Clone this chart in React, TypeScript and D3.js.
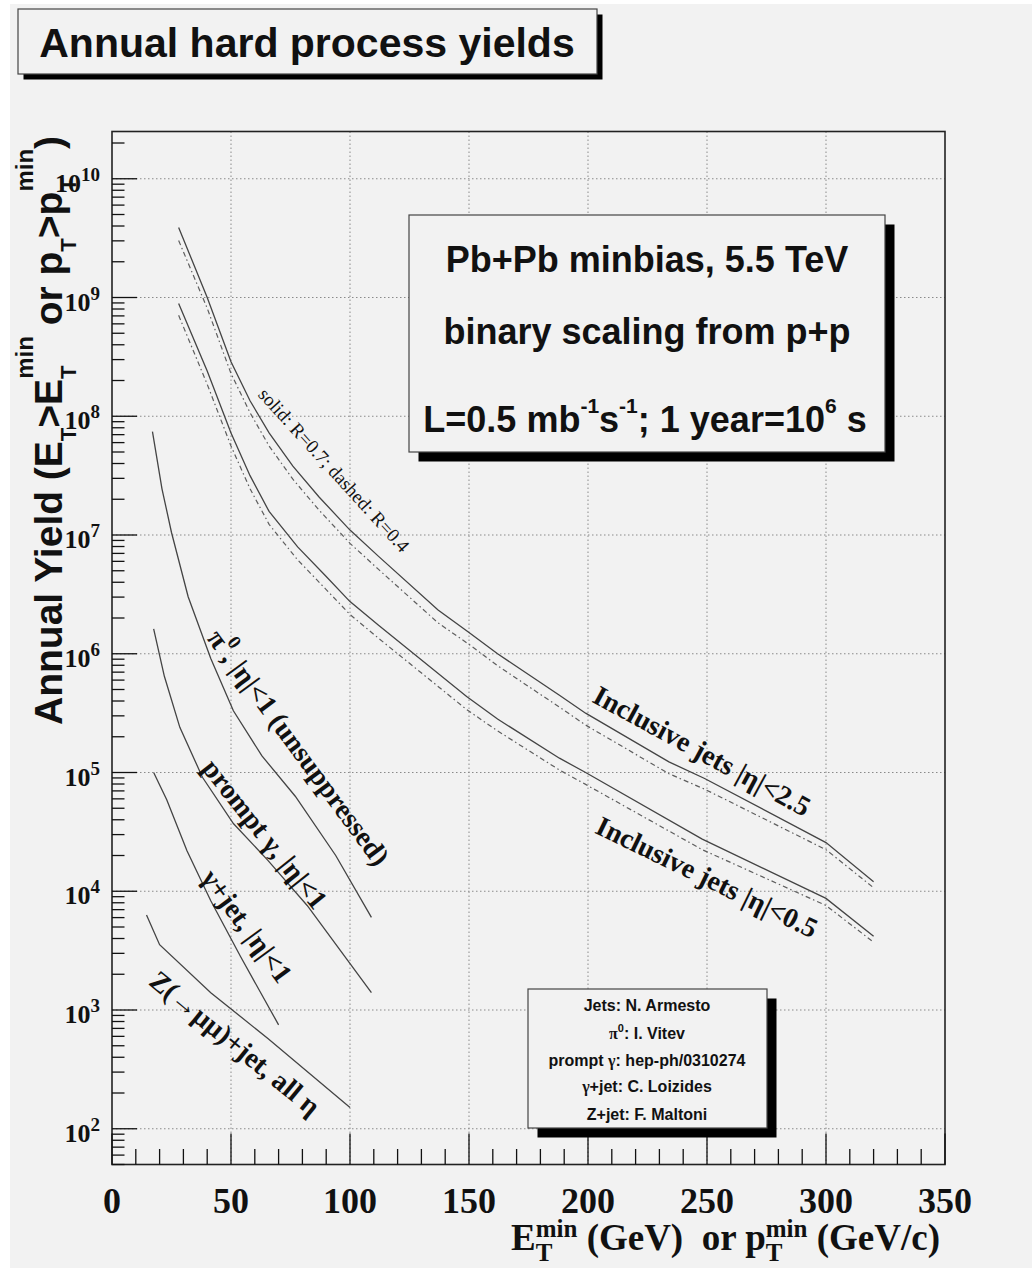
import React from "react";
import * as d3 from "d3";

// ---- data: annual yields above threshold (x = E_T^min or p_T^min in GeV) ----
const jets25X = [28, 40, 50, 58, 66, 76, 87, 100, 112, 137, 150, 162, 188, 199, 234, 249, 300, 320];
const jets25R07 = [3.89e9, 1.0e9, 2.88e8, 1.35e8, 7.24e7, 3.8e7, 2.09e7, 1.1e7, 6.61e6, 2.34e6, 1.51e6, 1.0e6, 4.47e5, 3.16e5, 1.23e5, 8.9e4, 2.57e4, 1.2e4];
const jets25R04 = [3.02e9, 8.13e8, 2.29e8, 1.07e8, 5.62e7, 2.95e7, 1.62e7, 8.51e6, 5.13e6, 1.82e6, 1.2e6, 7.94e5, 3.55e5, 2.51e5, 9.77e4, 7.24e4, 2.24e4, 1.07e4];

const jets05X = [28, 40, 50, 58, 66, 78, 90, 100, 112, 149, 162, 188, 199, 248, 300, 320];
const jets05R07 = [8.91e8, 2.4e8, 7.24e7, 3.16e7, 1.58e7, 7.94e6, 4.47e6, 2.75e6, 1.74e6, 4.37e5, 2.82e5, 1.32e5, 1.0e5, 2.75e4, 8.71e3, 4.17e3];
const jets05R04 = [7.08e8, 1.86e8, 5.62e7, 2.45e7, 1.23e7, 6.17e6, 3.47e6, 2.14e6, 1.35e6, 3.39e5, 2.24e5, 1.05e5, 7.94e4, 2.24e4, 7.59e3, 3.72e3];

const pi0X = [17, 21, 25, 32, 41.5, 51, 63, 77, 94, 109];
const pi0Y = [7.41e7, 2.45e7, 1.05e7, 3.02e6, 9.12e5, 3.31e5, 1.38e5, 6.31e4, 2.0e4, 6.03e3];

const photonX = [17.5, 22, 28.5, 38, 51, 65.5, 82, 109];
const photonY = [1.62e6, 6.46e5, 2.4e5, 9.12e4, 3.72e4, 1.82e4, 7.59e3, 1.4e3];

const gammaJetX = [17.5, 23, 31.5, 41.5, 54, 70];
const gammaJetY = [1.0e5, 5.89e4, 2.19e4, 8.32e3, 2.82e3, 750];

const zJetX = [14.5, 20, 41.5, 65.5, 100];
const zJetY = [6.31e3, 3.55e3, 1.4e3, 575, 151];

// ---- axes ----
const xMajorTicks = [0, 50, 100, 150, 200, 250, 300, 350];
const xTickLabels = ["0", "50", "100", "150", "200", "250", "300", "350"];
const xGridValues = [50, 100, 150, 200, 250, 300];
const yDecadeExponents = [2, 3, 4, 5, 6, 7, 8, 9, 10];

const credits = ["Jets: N. Armesto", "π0: I. Vitev", "prompt γ: hep-ph/0310274", "γ+jet: C. Loizides", "Z+jet: F. Maltoni"];

const SANS = "'Liberation Sans', Arial, Helvetica, sans-serif";
const SERIF = "'Liberation Serif', 'Times New Roman', Times, serif";
const BG = "#f2f2f2";

const frame = { left: 112, right: 945, top: 131.5, bottom: 1164.5 };
const xScale = d3.scaleLinear().domain([0, 350]).range([frame.left, frame.right]);
const yScale = d3.scaleLog().domain([50, 2.5e10]).range([frame.bottom, frame.top]);

const lineGen = d3
  .line<[number, number]>()
  .x((d) => xScale(d[0]))
  .y((d) => yScale(d[1]));

function path(xs: number[], ys: number[]) {
  return lineGen(xs.map((v, i) => [v, ys[i]] as [number, number])) || "";
}

function Shadowed({ x, y, w, h, off }: { x: number; y: number; w: number; h: number; off: number }) {
  return (
    <g>
      <rect x={x + off} y={y + off} width={w} height={h} fill="#000" />
      <rect x={x} y={y} width={w} height={h} fill={BG} stroke="#444" strokeWidth={1.2} />
    </g>
  );
}

function CurveLabel({ cx, cy, angle, size = 28, bold = true, children }: any) {
  return (
    <text
      transform={`translate(${cx},${cy}) rotate(${angle})`}
      textAnchor="middle"
      dominantBaseline="central"
      fontFamily={SERIF}
      fontWeight={bold ? "bold" : "normal"}
      fontSize={size}
      fill="#111"
      style={{ whiteSpace: "pre" }}
    >
      {children}
    </text>
  );
}

export default function App() {
  const minorX = d3.range(0, 351, 10).filter((v) => v % 50 !== 0);
  const minorY: number[] = [];
  for (let e = 1; e <= 10; e++) {
    for (let m = 2; m <= 9; m++) {
      const v = m * Math.pow(10, e);
      if (v >= 50 && v <= 2.5e10) minorY.push(v);
    }
  }

  const solid = { fill: "none", stroke: "#444", strokeWidth: 1.3 };
  const dashed = { fill: "none", stroke: "#5e5e5e", strokeWidth: 1.2, strokeDasharray: "5 3 1.5 3" };

  return (
    <svg width={1032} height={1268} style={{ position: "absolute", left: 0, top: 0 }}>
      <rect x={0} y={0} width={1032} height={1268} fill="#fff" />
      <rect x={10} y={4} width={1022} height={1264} fill={BG} />

      {/* grid */}
      <g stroke="#8a8a8a" strokeWidth={1} strokeDasharray="1.5 2.5">
        {xGridValues.map((v) => (
          <line key={"gx" + v} x1={xScale(v)} x2={xScale(v)} y1={frame.top} y2={frame.bottom} />
        ))}
        {yDecadeExponents.map((e) => (
          <line key={"gy" + e} x1={frame.left} x2={frame.right} y1={yScale(Math.pow(10, e))} y2={yScale(Math.pow(10, e))} />
        ))}
      </g>

      {/* curves */}
      <path d={path(jets25X, jets25R04)} {...dashed} />
      <path d={path(jets25X, jets25R07)} {...solid} />
      <path d={path(jets05X, jets05R04)} {...dashed} />
      <path d={path(jets05X, jets05R07)} {...solid} />
      <path d={path(pi0X, pi0Y)} {...solid} />
      <path d={path(photonX, photonY)} {...solid} />
      <path d={path(gammaJetX, gammaJetY)} {...solid} />
      <path d={path(zJetX, zJetY)} {...solid} />

      {/* frame */}
      <rect x={frame.left} y={frame.top} width={frame.right - frame.left} height={frame.bottom - frame.top} fill="none" stroke="#222" strokeWidth={1.6} />

      {/* ticks */}
      <g stroke="#111" strokeWidth={1.3}>
        {xMajorTicks.map((v) => (
          <line key={"tx" + v} x1={xScale(v)} x2={xScale(v)} y1={frame.bottom} y2={frame.bottom - 31} />
        ))}
        {minorX.map((v) => (
          <line key={"mx" + v} x1={xScale(v)} x2={xScale(v)} y1={frame.bottom} y2={frame.bottom - 15.5} />
        ))}
        {yDecadeExponents.map((e) => (
          <line key={"ty" + e} x1={frame.left} x2={frame.left + 25} y1={yScale(Math.pow(10, e))} y2={yScale(Math.pow(10, e))} />
        ))}
        {minorY.map((v) => (
          <line key={"my" + v} x1={frame.left} x2={frame.left + 12.5} y1={yScale(v)} y2={yScale(v)} />
        ))}
      </g>

      {/* tick labels */}
      <g fontFamily={SERIF} fontWeight="bold" fill="#111">
        {xMajorTicks.map((v, i) => (
          <text key={"lx" + v} x={xScale(v)} y={1213} textAnchor="middle" fontSize={36}>
            {xTickLabels[i]}
          </text>
        ))}
        {yDecadeExponents.map((e) => (
          <text key={"ly" + e} x={100} y={yScale(Math.pow(10, e)) + 13} textAnchor="end" fontSize={26}>
            10
            <tspan fontSize={19} dy={-11}>
              {String(e)}
            </tspan>
          </text>
        ))}
      </g>

      {/* axis titles */}
      <text
        transform="translate(62,725) rotate(-90)"
        fontFamily={SANS}
        fontWeight="bold"
        fontSize={39}
        fill="#111"
        style={{ whiteSpace: "pre" }}
      >
        <tspan>Annual Yield (E</tspan>
        <tspan fontSize={22} dy={14}>T</tspan>
        <tspan dy={-14}>&gt;E</tspan>
        <tspan fontSize={22} dy={14}>T</tspan>
        <tspan fontSize={24} dx={-13.4} dy={-43}>min</tspan>
        <tspan dy={29}> or p</tspan>
        <tspan fontSize={22} dy={14}>T</tspan>
        <tspan dy={-14}>&gt;p</tspan>
        <tspan fontSize={22} dy={14}>T</tspan>
        <tspan fontSize={24} dx={-13.4} dy={-43}>min</tspan>
        <tspan dy={29}>)</tspan>
      </text>

      <text x={940} y={1250} textAnchor="end" fontFamily={SERIF} fontWeight="bold" fontSize={37} fill="#111" style={{ whiteSpace: "pre" }}>
        <tspan>E</tspan>
        <tspan fontSize={25} dy={11}>T</tspan>
        <tspan fontSize={25} dx={-16.7} dy={-24}>min</tspan>
        <tspan dy={13}> (GeV)  or p</tspan>
        <tspan fontSize={25} dy={11}>T</tspan>
        <tspan fontSize={25} dx={-16.7} dy={-24}>min</tspan>
        <tspan dy={13}> (GeV/c)</tspan>
      </text>

      {/* curve labels */}
      <CurveLabel cx={334} cy={470} angle={47.7} size={19} bold={false}>
        solid: R=0.7; dashed: R=0.4
      </CurveLabel>
      <CurveLabel cx={702} cy={751} angle={28.5}>
        Inclusive jets |η|&lt;2.5
      </CurveLabel>
      <CurveLabel cx={707} cy={877} angle={26}>
        Inclusive jets |η|&lt;0.5
      </CurveLabel>
      <CurveLabel cx={299} cy={747} angle={53.5}>
        <tspan>π</tspan>
        <tspan fontSize={19} dy={-11}>0</tspan>
        <tspan dy={11}>, |η|&lt;1 (unsuppressed)</tspan>
      </CurveLabel>
      <CurveLabel cx={265} cy={834} angle={51.6}>
        prompt γ, |η|&lt;1
      </CurveLabel>
      <CurveLabel cx={247} cy={926} angle={53.8}>
        γ+jet, |η|&lt;1
      </CurveLabel>
      <CurveLabel cx={235} cy={1043} angle={39.3}>
        Z(→μμ)+jet, all η
      </CurveLabel>

      {/* title box */}
      <Shadowed x={18} y={9} w={579} h={65} off={5.5} />
      <text x={307} y={57} textAnchor="middle" fontFamily={SANS} fontWeight="bold" fontSize={41} fill="#111">
        Annual hard process yields
      </text>

      {/* conditions box */}
      <Shadowed x={409} y={215} w={476} h={237} off={9.5} />
      <g fontFamily={SANS} fontWeight="bold" fontSize={36} fill="#111" textAnchor="middle" style={{ whiteSpace: "pre" }}>
        <text x={647} y={272}>Pb+Pb minbias, 5.5 TeV</text>
        <text x={647} y={344}>binary scaling from p+p</text>
        <text x={645} y={432}>
          <tspan>L=0.5 mb</tspan>
          <tspan fontSize={21} dy={-19}>-1</tspan>
          <tspan dy={19}>s</tspan>
          <tspan fontSize={21} dy={-19}>-1</tspan>
          <tspan dy={19}>; 1 year=10</tspan>
          <tspan fontSize={21} dy={-19}>6</tspan>
          <tspan dy={19}> s</tspan>
        </text>
      </g>

      {/* credits box */}
      <Shadowed x={528} y={989} w={239} h={139} off={9.5} />
      <g fontFamily={SANS} fontWeight="bold" fontSize={16} fill="#111" textAnchor="middle" style={{ whiteSpace: "pre" }}>
        <text x={647} y={1011}>{credits[0]}</text>
        <text x={647} y={1038.5}>
          <tspan fontFamily={SERIF}>π</tspan>
          <tspan fontSize={11} dy={-7}>0</tspan>
          <tspan dy={7}>{credits[1].slice(2)}</tspan>
        </text>
        <text x={647} y={1066}>
          <tspan>prompt </tspan>
          <tspan fontFamily={SERIF}>γ</tspan>
          <tspan>{credits[2].slice(8)}</tspan>
        </text>
        <text x={647} y={1092}>
          <tspan fontFamily={SERIF}>γ</tspan>
          <tspan>{credits[3].slice(1)}</tspan>
        </text>
        <text x={647} y={1120}>{credits[4]}</text>
      </g>
    </svg>
  );
}
